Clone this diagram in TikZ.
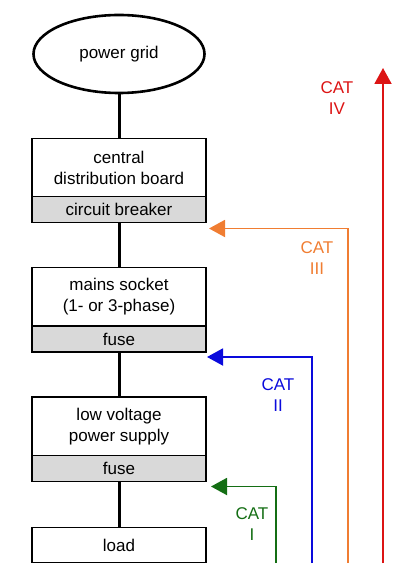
\documentclass[tikz,border=0pt]{standalone}
\usepackage{fontspec}
\setmainfont{Liberation Sans}
\usepackage{tikz}
\usetikzlibrary{shapes.geometric, arrows.meta, positioning, calc}

\definecolor{catIV}{RGB}{220,20,20}
\definecolor{catIII}{RGB}{240,125,50}
\definecolor{catII}{RGB}{10,10,220}
\definecolor{catI}{RGB}{20,110,20}

\begin{document}
\begin{tikzpicture}[
    x=1pt, y=-1pt,
    % supply chain (left column)
    gridnode/.style={ellipse, draw, line width=2.6pt, minimum width=171pt,
                     minimum height=78pt, inner sep=0pt, outer sep=0pt},
    unit/.style={rectangle, draw, line width=1.4pt, minimum width=174pt,
                 minimum height=58.5pt, align=center, inner sep=0pt, outer sep=0pt},
    % protection devices (grey strip)
    prot/.style={unit, fill=black!15, minimum height=26pt},
    wire/.style={line width=3pt},
    % measurement categories
    cat/.style={-{Triangle[length=16pt,width=17pt]}, line width=1.9pt},
    catlabel/.style={align=center},
    node distance=45pt,
    font=\fontsize{17}{21}\selectfont
]
\useasboundingbox (0,0) rectangle (409,577);

%-------- SUPPLY CHAIN --------
\node[gridnode] (grid) at (119,54) {power grid};
\node[unit, below=45.5pt of grid, minimum height=58pt] (board) {central\\distribution board};
\node[prot, below=0pt of board] (breaker) {circuit breaker};
\node[unit, below=of breaker] (socket) {mains socket\\(1- or 3-phase)};
\node[prot, below=0pt of socket] (fuseA) {fuse};
\node[unit, below=of fuseA] (psu) {low voltage\\power supply};
\node[prot, below=0pt of psu] (fuseB) {fuse};
\node[unit, below=46pt of fuseB, minimum height=35pt] (load) {load};

%-------- WIRES --------
\draw[wire] (grid.south)    -- (board.north);
\draw[wire] (breaker.south) -- (socket.north);
\draw[wire] (fuseA.south)   -- (psu.north);
\draw[wire] (fuseB.south)   -- (load.north);

%-------- CATEGORY ARROWS --------
\coordinate (foot4) at (383,563);
\coordinate (top4)  at (383,68);
\coordinate (foot3) at (348,563);
\coordinate (tip3)  at ($(breaker.south east)+(3,6)$);
\coordinate (foot2) at (312,563);
\coordinate (tip2)  at ($(fuseA.south east)+(1,5)$);
\coordinate (foot1) at (276,563);
\coordinate (tip1)  at ($(fuseB.south east)+(5,5)$);

\draw[cat, catIV]  (foot4) -- (top4);
\draw[cat, catIII] (foot3) |- (tip3);
\draw[cat, catII]  (foot2) |- (tip2);
\draw[cat, catI]   (foot1) |- (tip1);

%-------- CATEGORY LABELS --------
\node[catlabel, text=catIV]  (lab4) at (337,98.5) {CAT\\IV};
\node[catlabel, text=catIII] (lab3) at (317,258)  {CAT\\III};
\node[catlabel, text=catII]  (lab2) at (278,395.5) {CAT\\II};
\node[catlabel, text=catI]   (lab1) at (252,524)  {CAT\\I};

\end{tikzpicture}
\end{document}
